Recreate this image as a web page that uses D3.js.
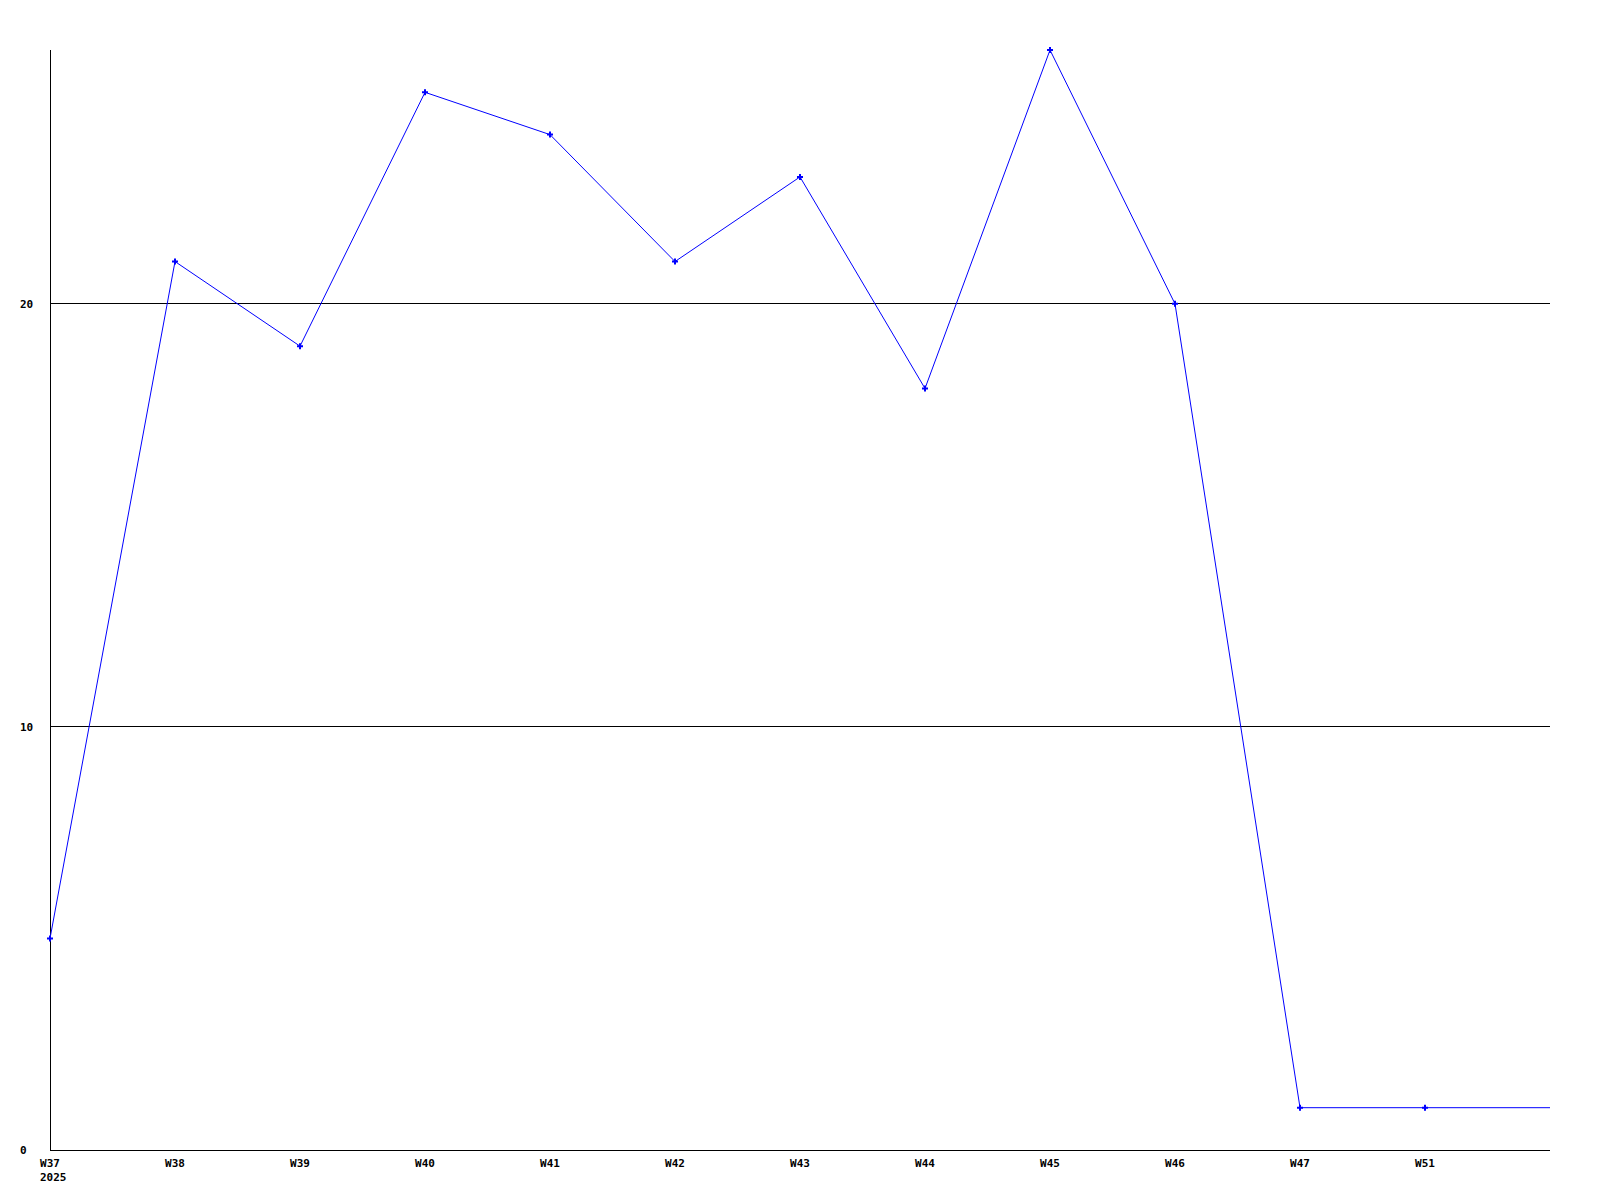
<!DOCTYPE html>
<html lang="en">
<head>
    <meta charset="UTF-8">
    <title>Weekly</title>
    <script src="https://d3js.org/d3.v7.min.js"></script>
    <style>
        body { margin: 0; background: #fff; }
        svg text { font-family: "DejaVu Sans Mono", monospace; font-weight: bold; font-size: 11px; fill: #000; }
    </style>
</head>
<body>
    <svg width="1600" height="1200"></svg>
    <script>
        // weeks shown on the x axis and the value per week
        const weeks = ["W37", "W38", "W39", "W40", "W41", "W42", "W43", "W44", "W45", "W46", "W47", "W51"];
        const values = [5, 21, 19, 25, 24, 21, 23, 18, 26, 20, 1, 1];
        const yearLabel = "2025";
        const yTicks = [0, 10, 20];

        const width = 1600;
        const height = 1200;
        const margin = {top: 50, right: 50, bottom: 50, left: 50};

        const svg = d3.select("svg")
            .attr("width", width)
            .attr("height", height);

        // one step per week, the plot runs one step past the last label
        const xScale = d3.scaleLinear()
            .domain([0, weeks.length])
            .range([margin.left, width - margin.right]);

        const yScale = d3.scaleLinear()
            .domain([0, 26])
            .range([height - margin.bottom, margin.top]);

        // horizontal grid lines
        svg.append("g")
            .selectAll("line")
            .data(yTicks.filter(d => d > 0))
            .join("line")
            .attr("x1", margin.left)
            .attr("x2", width - margin.right)
            .attr("y1", d => Math.floor(yScale(d)) + 0.5)
            .attr("y2", d => Math.floor(yScale(d)) + 0.5)
            .attr("stroke", "#000")
            .attr("stroke-width", 1);

        // axes lines
        svg.append("line")
            .attr("x1", margin.left + 0.5).attr("x2", margin.left + 0.5)
            .attr("y1", margin.top).attr("y2", height - margin.bottom)
            .attr("stroke", "#000");
        svg.append("line")
            .attr("x1", margin.left).attr("x2", width - margin.right)
            .attr("y1", height - margin.bottom + 0.5).attr("y2", height - margin.bottom + 0.5)
            .attr("stroke", "#000");

        // y labels
        svg.append("g")
            .selectAll("text")
            .data(yTicks)
            .join("text")
            .attr("x", 20)
            .attr("y", d => yScale(d) + 4)
            .text(d => d);

        // x labels
        svg.append("g")
            .selectAll("text")
            .data(weeks)
            .join("text")
            .attr("x", (d, i) => xScale(i))
            .attr("y", height - margin.bottom + 17)
            .attr("text-anchor", "middle")
            .text(d => d);

        svg.append("text")
            .attr("x", xScale(0) - 10)
            .attr("y", height - margin.bottom + 31)
            .text(yearLabel);

        // line, the last value is carried to the right edge
        const points = values.map((v, i) => ({x: i, y: v}));
        const linePoints = points.concat([{x: weeks.length, y: values[values.length - 1]}]);

        const line = d3.line()
            .x(d => xScale(d.x))
            .y(d => yScale(d.y));

        svg.append("path")
            .datum(linePoints)
            .attr("fill", "none")
            .attr("stroke", "#0000ff")
            .attr("stroke-width", 1)
            .attr("d", line);

        // small point markers
        svg.append("g")
            .selectAll("path")
            .data(points)
            .join("path")
            .attr("transform", d => `translate(${xScale(d.x)},${yScale(d.y)})`)
            .attr("d", d3.symbol().type(d3.symbolCross).size(20))
            .attr("fill", "#0000ff");
    </script>
</body>
</html>
